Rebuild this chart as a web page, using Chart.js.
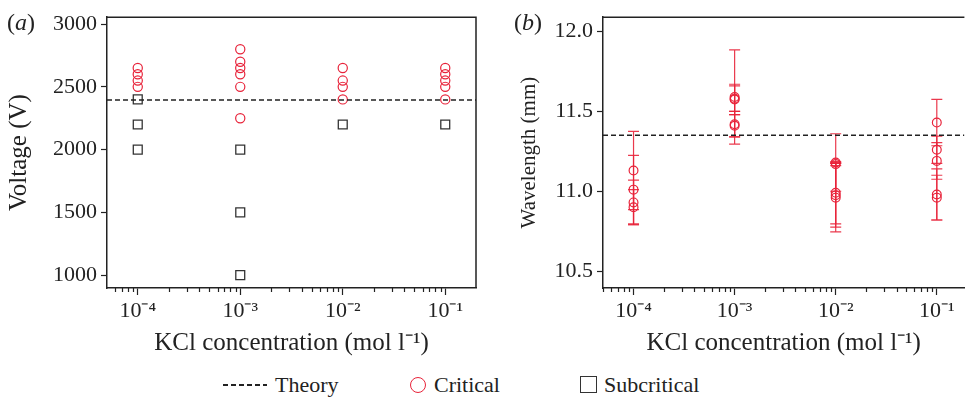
<!DOCTYPE html>
<html>
<head>
<meta charset="utf-8">
<script src="https://cdn.jsdelivr.net/npm/chart.js@4.4.0/dist/chart.umd.min.js"></script>
<style>
html, body { margin: 0; padding: 0; background: #fff; overflow: hidden; width: 970px; height: 397px; }
#wrap { position: relative; width: 970px; height: 397px; font-family: "Liberation Serif", "Times New Roman", serif; color: #222; }
canvas { position: absolute; top: 0; }
#left { left: 0; }
#right { left: 490px; }
.lab { position: absolute; font-size: 24px; line-height: 28px; }
.lg { position: absolute; font-size: 22px; line-height: 26px; top: 372px; }
.sym { position: absolute; box-sizing: border-box; }
</style>
</head>
<body>
<div id="wrap">
  <canvas id="left" width="490" height="362"></canvas>
  <canvas id="right" width="480" height="362"></canvas>
  <div class="lab" style="left:7px;top:8px">(<i>a</i>)</div>
  <div class="lab" style="left:514px;top:8px">(<i>b</i>)</div>

  <div class="sym" style="left:223px;top:384px;width:44px;height:1.6px;background:repeating-linear-gradient(to right,#222 0 5px,transparent 5px 8px)"></div>
  <div class="lg" style="left:275px">Theory</div>
  <div class="sym" style="left:410px;top:377px;width:16px;height:16px;border:1.5px solid #e8233a;border-radius:50%"></div>
  <div class="lg" style="left:434px">Critical</div>
  <div class="sym" style="left:580px;top:376px;width:17px;height:17px;border:1.5px solid #333"></div>
  <div class="lg" style="left:604px">Subcritical</div>
</div>

<script>
// x axis (log) ticks
const xTickVals = [1e-4, 1e-3, 1e-2, 1e-1];
const xTickLabels = ['10\u207B\u2074', '10\u207B\u00B3', '10\u207B\u00B2', '10\u207B\u00B9'];

// panel (a): voltage
const vTicks = [1000, 1500, 2000, 2500, 3000];
const critX = [1e-4, 1e-4, 1e-4, 1e-4,
               1e-3, 1e-3, 1e-3, 1e-3, 1e-3, 1e-3,
               1e-2, 1e-2, 1e-2, 1e-2,
               1e-1, 1e-1, 1e-1, 1e-1, 1e-1];
const critV = [2500, 2550, 2600, 2650,
               2250, 2500, 2600, 2650, 2700, 2800,
               2400, 2500, 2550, 2650,
               2400, 2500, 2550, 2600, 2650];
const subX = [1e-4, 1e-4, 1e-4, 1e-3, 1e-3, 1e-3, 1e-2, 1e-1];
const subV = [2000, 2200, 2400, 1000, 1500, 2000, 2200, 2200];
const theoryV = 2395;

// panel (b): wavelength with error bars
const wTicks = [10.5, 11.0, 11.5, 12.0];
const wTickLabels = ['10.5', '11.0', '11.5', '12.0'];
const waveX = [1e-4, 1e-4, 1e-4, 1e-4,
               1e-3, 1e-3, 1e-3, 1e-3, 1e-3,
               1e-2, 1e-2, 1e-2, 1e-2, 1e-2,
               1e-1, 1e-1, 1e-1, 1e-1, 1e-1];
const waveL = [11.13, 11.01, 10.93, 10.90,
               11.59, 11.58, 11.575, 11.42, 11.41,
               11.18, 11.17, 10.99, 10.975, 10.96,
               11.43, 11.26, 11.19, 10.98, 10.96];
const waveErr = [0.245, 0.215, 0.14, 0.11,
                 0.295, 0.08, 0.095, 0.08, 0.07,
                 0.18, 0.01, 0.195, 0.2, 0.215,
                 0.145, 0.085, 0.115, 0.16, 0.14];
const theoryL = 11.35;

const RED = '#e8233a';
const INK = '#222';
Chart.defaults.font.family = '"Liberation Serif", "Times New Roman", serif';
Chart.defaults.color = INK;

function logTicks(min, max) {
    const out = [];
    for (let n = -5; n <= 0; n++) {
        for (let k = 1; k <= 9; k++) {
            const v = k * Math.pow(10, n);
            if (v >= min && v <= max) out.push({ value: v, major: k === 1 });
        }
    }
    return out;
}

function pts(xs, ys) {
    return xs.map((x, i) => ({ x: x, y: ys[i] }));
}

// short minor ticks on the log axis
const minorTicks = {
    id: 'minorTicks',
    afterDraw(chart) {
        const s = chart.scales.x, c = chart.ctx;
        c.save();
        c.strokeStyle = INK;
        c.lineWidth = 1.2;
        s.ticks.forEach(t => {
            if (t.major) return;
            const px = Math.round(s.getPixelForValue(t.value)) + 0.5;
            c.beginPath();
            c.moveTo(px, s.top);
            c.lineTo(px, s.top + 4);
            c.stroke();
        });
        c.restore();
    }
};

// box lines on top (and right)
const frame = {
    id: 'frame',
    afterDraw(chart, args, opts) {
        const a = chart.chartArea, c = chart.ctx;
        c.save();
        c.strokeStyle = INK;
        c.lineWidth = 1.5;
        c.beginPath();
        c.moveTo(a.left, a.top);
        c.lineTo(a.right, a.top);
        if (opts.right) c.lineTo(a.right, a.bottom);
        c.stroke();
        c.restore();
    }
};

const errBars = {
    id: 'errBars',
    beforeDatasetsDraw(chart) {
        const xs = chart.scales.x, ys = chart.scales.y, c = chart.ctx;
        c.save();
        c.strokeStyle = 'rgba(232,35,58,0.9)';
        c.lineWidth = 1.2;
        chart.data.datasets.forEach(ds => {
            if (!ds.errors) return;
            ds.data.forEach((d, i) => {
                const e = ds.errors[i];
                const px = xs.getPixelForValue(d.x);
                const y1 = ys.getPixelForValue(d.y + e);
                const y2 = ys.getPixelForValue(d.y - e);
                c.beginPath();
                c.moveTo(px, y1); c.lineTo(px, y2);
                c.moveTo(px - 5.5, y1); c.lineTo(px + 5.5, y1);
                c.moveTo(px - 5.5, y2); c.lineTo(px + 5.5, y2);
                c.stroke();
            });
        });
        c.restore();
    }
};

function makeOptions(o) {
    return {
        responsive: false,
        animation: false,
        layout: { padding: { top: o.padTop, right: o.padRight, left: 0, bottom: 0 } },
        plugins: { legend: { display: false }, tooltip: { enabled: false }, frame: { right: o.frameRight } },
        scales: {
            x: {
                type: 'logarithmic',
                min: o.xMin, max: o.xMax,
                afterBuildTicks: s => { s.ticks = logTicks(o.xMin, o.xMax); },
                afterFit: s => { s.height = 74; },
                border: { color: INK, width: 1.5 },
                grid: {
                    drawOnChartArea: false, tickLength: 7, tickWidth: 1.2,
                    tickColor: ctx => (ctx.tick && ctx.tick.major) ? INK : 'rgba(0,0,0,0)'
                },
                ticks: {
                    autoSkip: false, maxRotation: 0, padding: 3,
                    font: { size: 22 },
                    callback: (v) => {
                        const i = xTickVals.findIndex(t => Math.abs(t - v) / t < 1e-6);
                        return i >= 0 ? xTickLabels[i] : '';
                    }
                },
                title: {
                    display: true, text: 'KCl concentration (mol l\u207B\u00B9)',
                    font: { size: 25 }, padding: { top: 0, bottom: 4 }
                }
            },
            y: {
                type: 'linear',
                min: o.yMin, max: o.yMax,
                afterBuildTicks: s => { s.ticks = o.yTicks.map(v => ({ value: v })); },
                afterFit: s => { s.width = o.yWidth; },
                border: { color: INK, width: 1.5 },
                grid: { drawOnChartArea: false, tickLength: 6, tickWidth: 1.2, tickColor: INK },
                ticks: {
                    padding: 4, font: { size: 22 },
                    callback: (v, i) => o.yLabels ? o.yLabels[i] : String(v)
                },
                title: {
                    display: true, text: o.yTitle,
                    font: { size: o.yTitleSize }, padding: { top: o.yTitlePad, bottom: 0 }
                }
            }
        }
    };
}

// panel (a)
const xMinA = Math.pow(10, -4.3), xMaxA = Math.pow(10, -0.7);
new Chart(document.getElementById('left'), {
    type: 'scatter',
    data: {
        datasets: [
            {
                type: 'line', label: 'Theory',
                data: [{ x: xMinA, y: theoryV }, { x: xMaxA, y: theoryV }],
                borderColor: INK, borderWidth: 1.5, borderDash: [5, 3], pointRadius: 0, fill: false
            },
            {
                label: 'Critical', data: pts(critX, critV),
                pointStyle: 'circle', pointRadius: 4.6, borderWidth: 1.2,
                borderColor: RED, backgroundColor: 'rgba(0,0,0,0)'
            },
            {
                label: 'Subcritical', data: pts(subX, subV),
                pointStyle: 'rect', pointRadius: 6.3, borderWidth: 1.3,
                borderColor: '#333', backgroundColor: 'rgba(0,0,0,0)'
            }
        ]
    },
    options: makeOptions({
        xMin: xMinA, xMax: xMaxA, yMin: 897, yMax: 3055, yTicks: vTicks,
        yTitle: 'Voltage (V)', yTitleSize: 25, yTitlePad: 4, yWidth: 107,
        padTop: 15, padRight: 14, frameRight: true
    }),
    plugins: [minorTicks, frame]
});

// panel (b)
const xMinB = Math.pow(10, -4.302), xMaxB = Math.pow(10, -0.727);
new Chart(document.getElementById('right'), {
    type: 'scatter',
    data: {
        datasets: [
            {
                type: 'line', label: 'Theory',
                data: [{ x: xMinB, y: theoryL }, { x: xMaxB, y: theoryL }],
                borderColor: INK, borderWidth: 1.5, borderDash: [5, 3], pointRadius: 0, fill: false
            },
            {
                label: 'Critical', data: pts(waveX, waveL), errors: waveErr,
                pointStyle: 'circle', pointRadius: 4.4, borderWidth: 1.2,
                borderColor: RED, backgroundColor: 'rgba(0,0,0,0)'
            }
        ]
    },
    options: makeOptions({
        xMin: xMinB, xMax: xMaxB, yMin: 10.394, yMax: 12.09, yTicks: wTicks, yLabels: wTickLabels,
        yTitle: 'Wavelength (mm)', yTitleSize: 21, yTitlePad: 27, yWidth: 113,
        padTop: 10, padRight: 0, frameRight: false
    }),
    plugins: [minorTicks, frame, errBars]
});
</script>
</body>
</html>
